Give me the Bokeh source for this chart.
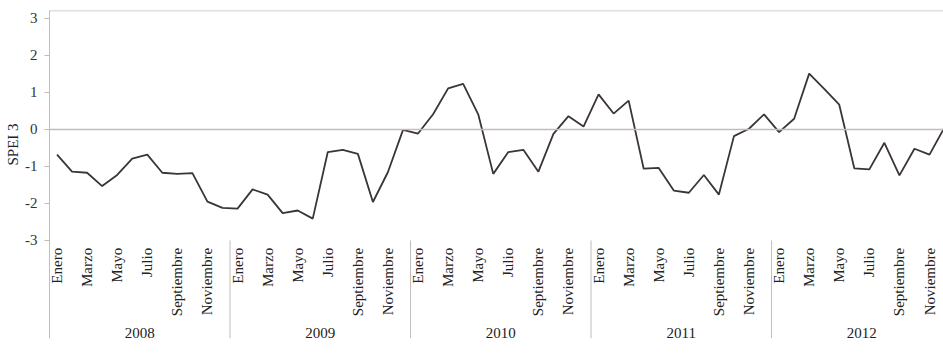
import math
from bokeh.plotting import figure
from bokeh.models import Range1d, FixedTicker, Span, ColumnDataSource, Title
from bokeh.embed import file_html
from bokeh.resources import INLINE
from bokeh.core.properties import value

years = ["2008", "2009", "2010", "2011", "2012"]
month_names = ["Enero", "Febrero", "Marzo", "Abril", "Mayo", "Junio",
               "Julio", "Agosto", "Septiembre", "Octubre", "Noviembre", "Diciembre"]
label_months = ["Enero", "Marzo", "Mayo", "Julio", "Septiembre", "Noviembre"]

spei_2008 = [-0.68, -1.14, -1.17, -1.53, -1.23, -0.79, -0.68, -1.17, -1.20, -1.18, -1.95, -2.12]
spei_2009 = [-2.14, -1.62, -1.76, -2.26, -2.19, -2.41, -0.61, -0.55, -0.66, -1.96, -1.15, -0.01]
spei_2010 = [-0.11, 0.41, 1.11, 1.23, 0.41, -1.20, -0.61, -0.55, -1.14, -0.12, 0.36, 0.08]
spei_2011 = [0.95, 0.43, 0.78, -1.06, -1.04, -1.65, -1.71, -1.23, -1.76, -0.18, 0.02, 0.41]
spei_2012 = [-0.07, 0.29, 1.51, 1.10, 0.67, -1.05, -1.08, -0.36, -1.24, -0.52, -0.68, 0.06]

y_ticks = [-3, -2, -1, 0, 1, 2, 3]
y_tick_labels = ["-3", "-2", "-1", "0", "1", "2", "3"]
y_axis_title = "SPEI 3"

serif = "Liberation Serif"
grey = "#c4bcbc"
dark = "#3b3535"

spei = spei_2008 + spei_2009 + spei_2010 + spei_2011 + spei_2012
n = len(spei)
xs = [i + 0.5 for i in range(n)]

p = figure(width=943, height=353, output_backend="svg", toolbar_location=None,
           x_range=Range1d(0, 59.43), y_range=Range1d(-5.65, 3.216),
           x_axis_location=None, min_border_left=0, min_border_right=0,
           min_border_top=10, min_border_bottom=15)
p.outline_line_color = None
p.xgrid.visible = False
p.ygrid.visible = False
p.background_fill_color = "white"
p.border_fill_color = "white"

# y axis
yax = p.yaxis[0]
yax.ticker = FixedTicker(ticks=y_ticks)
yax.major_label_overrides = {t: l for t, l in zip(y_ticks, y_tick_labels)}
yax.minor_tick_line_color = None
yax.major_tick_in = 0
yax.major_tick_out = 5
yax.major_tick_line_color = grey
yax.axis_line_color = grey
yax.major_label_text_font = serif
yax.major_label_text_font_size = "15px"
yax.major_label_text_color = "#333333"
yax.major_label_standoff = 7

# axis title, placed beside the -3..3 part of the axis
p.add_layout(Title(text=y_axis_title, align="left", offset=173, standoff=4,
                   text_font=serif, text_font_size="15px",
                   text_font_style="normal", text_color="#222222"), "left")

# top border and zero line
p.add_layout(Span(location=3.216, dimension="width", line_color=grey, line_width=1.5))
p.add_layout(Span(location=0, dimension="width", line_color=grey, line_width=1.5))

# year separators
sep_x = [12 * k for k in range(1, len(years))]
p.segment(x0=sep_x, y0=[-3] * len(sep_x), x1=sep_x, y1=[-5.65] * len(sep_x),
          line_color=grey, line_width=1)

# series
p.line(xs, spei, line_color=dark, line_width=1.8)

# month labels
lab_x, lab_t = [], []
for yi, yr in enumerate(years):
    for mi, m in enumerate(month_names):
        if m in label_months:
            lab_x.append(yi * 12 + mi + 0.5)
            lab_t.append(m)
src = ColumnDataSource(dict(x=lab_x, y=[-3.2] * len(lab_x), t=lab_t))
p.text(x="x", y="y", text="t", source=src, angle=math.pi / 2,
       text_align="right", text_baseline="middle",
       text_font=value(serif), text_font_size="15px", text_color="#222222")

# year labels
ysrc = ColumnDataSource(dict(x=[12 * k + 6 for k in range(len(years))],
                             y=[-5.49] * len(years), t=years))
p.text(x="x", y="y", text="t", source=ysrc, text_align="center",
       text_baseline="middle", text_font=value(serif), text_font_size="15px",
       text_color="#222222")

open("out.html", "w").write(file_html(p, INLINE))
